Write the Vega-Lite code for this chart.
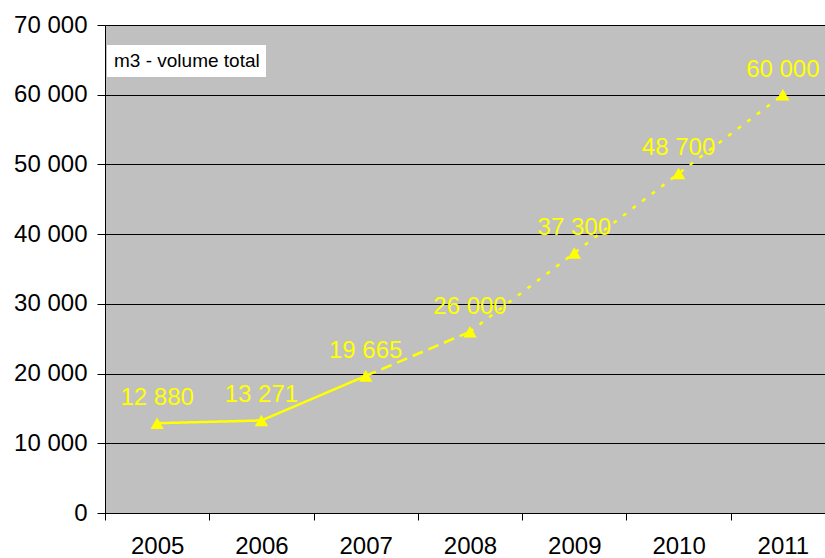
{
  "$schema": "https://vega.github.io/schema/vega-lite/v6.json",
  "width": 730,
  "height": 488,
  "autosize": "none",
  "padding": {"left": 105, "top": 25, "right": 0, "bottom": 45},
  "background": "white",
  "config": {
    "view": {"fill": "#C0C0C0", "stroke": null},
    "font": "Liberation Sans",
    "locale": {"number": {"decimal": ",", "thousands": " ", "grouping": [3], "currency": ["", ""]}}
  },
  "datasets": {
    "pts": [
      {"year": "2005", "value": 12880},
      {"year": "2006", "value": 13271},
      {"year": "2007", "value": 19665},
      {"year": "2008", "value": 26000},
      {"year": "2009", "value": 37300},
      {"year": "2010", "value": 48700},
      {"year": "2011", "value": 60000}
    ],
    "segs": [
      {"year": "2005", "value": 12880, "seg": "solid"},
      {"year": "2006", "value": 13271, "seg": "solid"},
      {"year": "2007", "value": 19665, "seg": "solid"},
      {"year": "2007", "value": 19665, "seg": "dash"},
      {"year": "2008", "value": 26000, "seg": "dash"},
      {"year": "2008", "value": 26000, "seg": "dot"},
      {"year": "2009", "value": 37300, "seg": "dot"},
      {"year": "2010", "value": 48700, "seg": "dot"},
      {"year": "2011", "value": 60000, "seg": "dot"}
    ]
  },
  "encoding": {
    "x": {
      "field": "year",
      "type": "ordinal",
      "title": null,
      "scale": {"type": "band", "paddingInner": 0, "paddingOuter": 0},
      "axis": {
        "tickBand": "extent",
        "grid": false,
        "domainColor": "black",
        "tickColor": "black",
        "tickSize": 7,
        "labelAngle": 0,
        "labelFontSize": 24,
        "labelColor": "black",
        "labelPadding": 14,
        "labelFont": "Liberation Sans"
      }
    },
    "y": {
      "field": "value",
      "type": "quantitative",
      "title": null,
      "scale": {"domain": [0, 70000], "nice": false},
      "axis": {
        "values": [0, 10000, 20000, 30000, 40000, 50000, 60000, 70000],
        "labelExpr": "replace(format(datum.value, ','), ',', ' ')",
        "grid": true,
        "gridColor": "black",
        "gridOpacity": 1,
        "gridWidth": 1,
        "domainColor": "black",
        "tickColor": "black",
        "tickSize": 8,
        "labelFontSize": 24,
        "labelColor": "black",
        "labelPadding": 10,
        "labelFont": "Liberation Sans"
      }
    }
  },
  "layer": [
    {
      "data": {"name": "segs"},
      "mark": {"type": "line", "color": "#FFFF00", "strokeWidth": 2.5},
      "encoding": {
        "detail": {"field": "seg"},
        "strokeDash": {
          "field": "seg",
          "type": "nominal",
          "scale": {"domain": ["solid", "dash", "dot"], "range": [[1, 0], [11, 6], [4, 8]]},
          "legend": null
        }
      }
    },
    {
      "data": {"name": "pts"},
      "mark": {"type": "point", "shape": "triangle-up", "filled": true, "size": 180, "opacity": 1},
      "encoding": {
        "color": {
          "datum": "m3 - volume total",
          "scale": {"range": ["#FFFF00"]},
          "legend": {
            "title": null,
            "orient": "none",
            "legendX": 2,
            "legendY": 20,
            "fillColor": "white",
            "padding": 6,
            "symbolSize": 1,
            "symbolStrokeWidth": 0,
            "symbolOpacity": 0,
            "labelOffset": -18,
            "labelFontSize": 19,
            "labelColor": "black",
            "labelFont": "Liberation Sans",
            "labelLimit": 300
          }
        }
      }
    },
    {
      "data": {"name": "pts"},
      "mark": {"type": "text", "color": "#FFFF00", "fontSize": 24, "dy": -18, "baseline": "alphabetic", "align": "center", "font": "Liberation Sans"},
      "encoding": {
        "text": {"field": "value", "type": "quantitative", "format": ","}
      }
    }
  ]
}
